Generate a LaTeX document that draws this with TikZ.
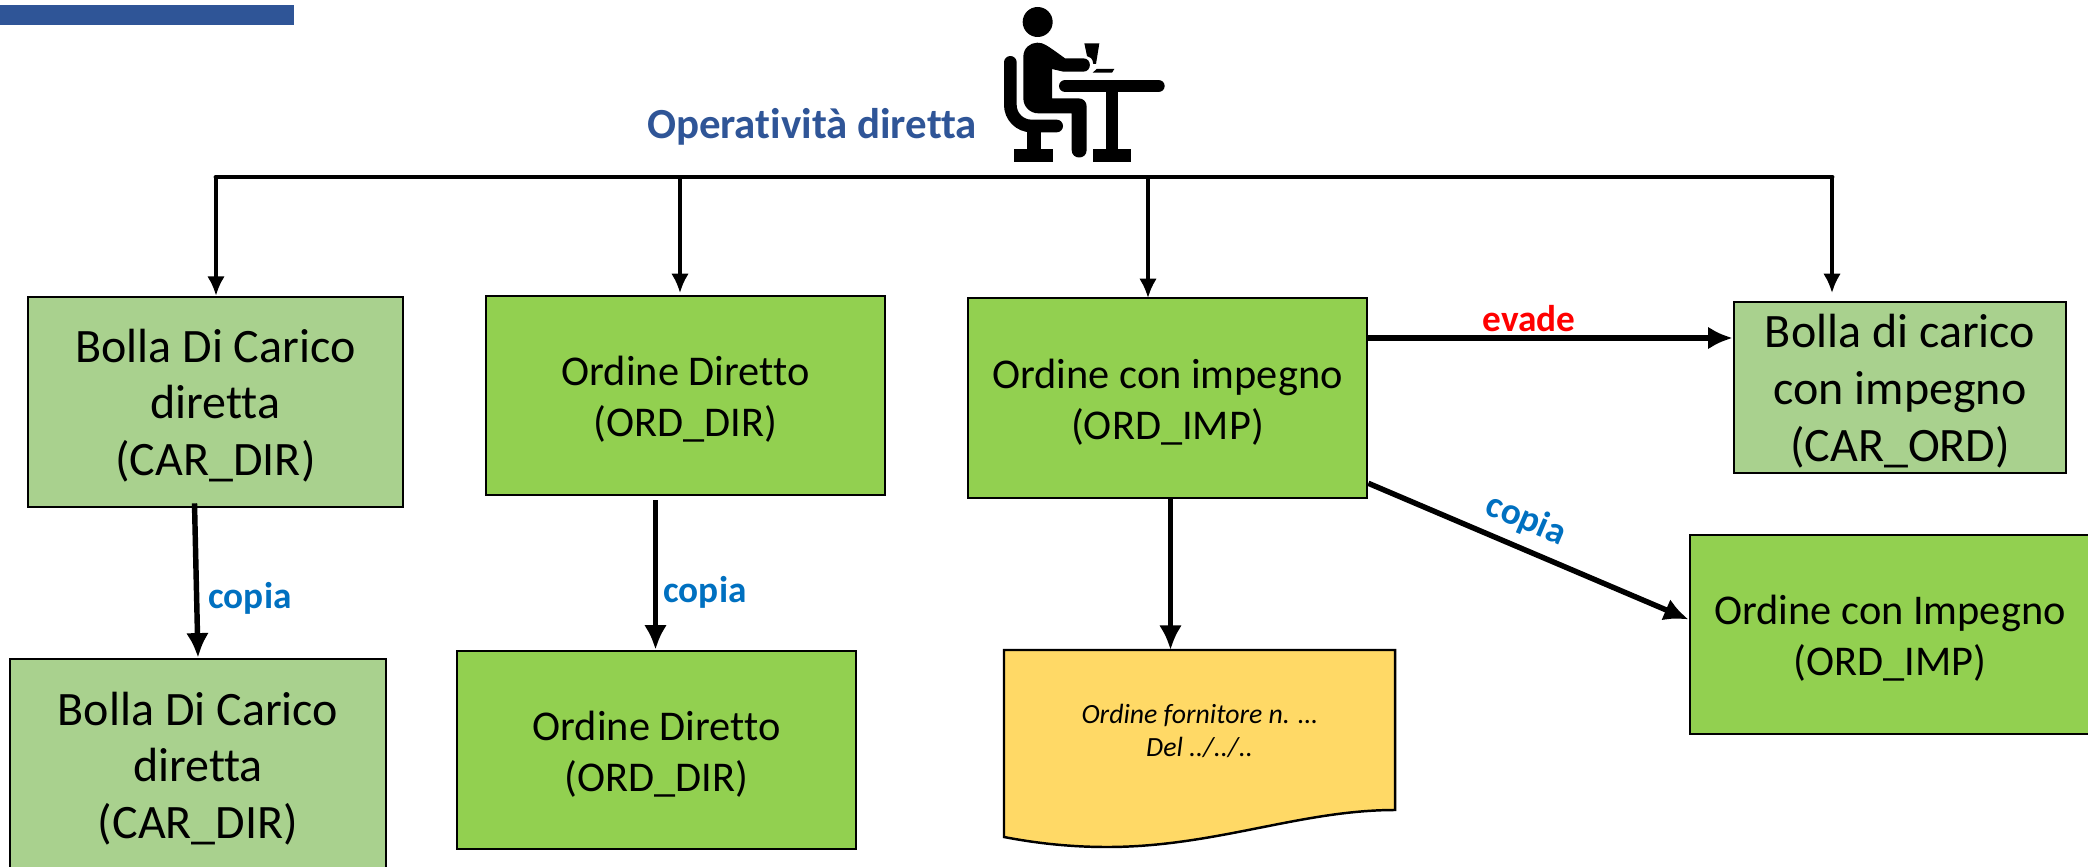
\documentclass[tikz,border=0pt]{standalone}
\usepackage{fontspec}
\setmainfont{Carlito}[Ligatures=CommonOff]
\usepackage{tikz}
\usetikzlibrary{calc,arrows.meta}
\definecolor{headBlue}{HTML}{2F5597}
\definecolor{copyBlue}{HTML}{0070C0}
\definecolor{brightGreen}{HTML}{92D050}
\definecolor{paleGreen}{HTML}{A9D18E}
\definecolor{docYellow}{HTML}{FFD966}
\tikzset{
 flowbox/.style = {draw=black, line width=0.7pt, align=center, inner sep=0pt},
 feed/.style = {draw=black, line width=0.95pt, -{Latex[length=5.5pt,width=5pt]}},
 heavy/.style = {draw=black, line width=1.55pt, -{Latex[length=7pt,width=6.5pt]}},
 copylabel/.style = {text=copyBlue, font=\fontsize{10.6}{13}\selectfont\bfseries}
}
\pgfkeys{
 /flowBlock/.is family, /flowBlock,
 name/.estore in = \fbName,
 w/.estore in = \fbW,
 h/.estore in = \fbH,
 c/.estore in = \fbC,
 fs/.estore in = \fbFs,
 default/.style = {name=defaultname, w=4, h=2, c=brightGreen, fs=big}
}
\newcommand{\flowBlock}[3][]{
    \pgfkeys{/flowBlock, default, #1}%
    \node[flowbox, fill=\fbC, minimum width=\fbW cm, minimum height=\fbH cm,
        font=\csname fs\fbFs\endcsname] (\fbName) at #2
        {\raisebox{-0.38em}[0pt][0pt]{\begin{tabular}{@{}c@{}}#3\end{tabular}}};
}
\newcommand{\fsbig}{\fontsize{13.65}{16.2}\selectfont}
\newcommand{\fssmall}{\fontsize{12.05}{14.5}\selectfont}

\begin{document}
\begin{tikzpicture}[x=0.01cm, y=-0.01cm]
    \useasboundingbox (0,0) rectangle (2088,867);
    \clip (0,0) rectangle (2088,867);
    \fill[headBlue] (0,5) rectangle (294,25);

    % person at the table
    \begin{scope}[shift={(950,0)}, x=0.01cm/3, y=-0.01cm/3]
        \fill (263,66) circle (45);
        \draw[line width=3.6pt, line cap=round, rounded corners=6pt] (181,187) -- (181,378) -- (320,378);
        \fill (232,390) rectangle (272,450);
        \fill (193,448) rectangle (308,487);
        \draw[line width=3.6pt, line cap=round] (346,258) -- (625,258);
        \fill (468,270) rectangle (505,450);
        \fill (430,448) rectangle (543,487);
        \fill (220,170) .. controls (220,145) and (240,128) .. (262,128)
            .. controls (280,128) and (290,135) .. (345,175) -- (400,175)
            .. controls (426,175) and (426,215) .. (400,215) -- (340,215) -- (306,207) -- (306,295) -- (385,295)
            .. controls (400,295) and (410,305) .. (410,320) -- (410,450)
            .. controls (410,480) and (365,480) .. (365,450) -- (365,340) -- (265,340)
            .. controls (240,340) and (220,320) .. (220,295) -- cycle;
        \fill (403,130) -- (448,130) -- (438,192) -- (430,192) .. controls (428,175) and (420,170) .. (411,168) -- cycle;
        \fill (440,207) -- (493,207) -- (486,218) -- (428,218) -- cycle;
    \end{scope}

    \node[text=headBlue, font=\fontsize{12.2}{15}\selectfont\bfseries] (opDir) at (812,127) {Operatività diretta};

    \flowBlock[name=carDirA, w=3.75, h=2.10, c=paleGreen]{(215.5,402)}{Bolla Di Carico\\diretta\\(CAR\_DIR)}
    \flowBlock[name=ordDirA, w=3.99, h=1.99, fs=small]{(685.5,395.5)}{Ordine Diretto\\(ORD\_DIR)}
    \flowBlock[name=ordImpA, w=3.99, h=2.00, fs=small]{(1167.5,398)}{Ordine con impegno\\(ORD\_IMP)}
    \flowBlock[name=carOrd, w=3.32, h=1.71, c=paleGreen]{(1900,387.5)}{Bolla di carico\\con impegno\\(CAR\_ORD)}
    \flowBlock[name=carDirB, w=3.76, h=2.12, c=paleGreen]{(198,765)}{Bolla Di Carico\\diretta\\(CAR\_DIR)}
    \flowBlock[name=ordDirB, w=3.99, h=1.98, fs=small]{(656.5,750)}{Ordine Diretto\\(ORD\_DIR)}
    \flowBlock[name=ordImpB, w=4.00, h=1.99, fs=small]{(1890,634.5)}{Ordine con Impegno\\(ORD\_IMP)}

    \coordinate (docNW) at (1004,650);
    \coordinate (docSE) at (1395,810);
    \draw[flowbox, fill=docYellow] (docNW) -| (docSE)
        .. controls (1300,810) and (1215,847) .. (1107,847)
        .. controls (1065,847) and (1030,842) .. (docNW |- 0,837) -- cycle;
    \node[font=\fontsize{7.9}{9.6}\selectfont\itshape, align=center] (fornitore) at ($(docNW)!0.5!(docSE)+(0,1)$) {Ordine fornitore n. …\\Del ../../..};

    \coordinate (busL) at (216,177);
    \coordinate (busR) at (1832,177);
    \draw[line width=1.4pt, line cap=round] (busL) -- (busR);
    \draw[feed] (busL) -- (busL |- carDirA.north);
    \draw[feed] (680,177) -- (680,293);
    \draw[feed] (1148,177) -- (1148,298);
    \draw[feed] (busR) -- (1832,293);

    \draw[heavy] ($(carDirA.south)+(-21,-5)$) -- (carDirB.north);
    \draw[heavy] ($(ordDirA.south)+(-30,4)$) -- ($(ordDirB.north)+(-1,0)$);
    \draw[heavy] ($(ordImpA.south)+(3,0)$) -- ($(ordImpA.south |- docNW)+(3,0)$);
    \draw[heavy] (ordImpA.east |- 0,338) -- (carOrd.west |- 0,338);
    \draw[heavy] ($(ordImpA.south east)+(0,-16)$) -- ($(ordImpB.west)+(0,-15)$);

    \node[copylabel] (copiaA) at (250,598) {copia};
    \node[copylabel] (copiaB) at (705,592) {copia};
    \node[copylabel, rotate=-23] (copiaC) at (1526,520) {copia};
    \node[copylabel, text=red] (evade) at (1529,319) {evade};
\end{tikzpicture}
\end{document}
